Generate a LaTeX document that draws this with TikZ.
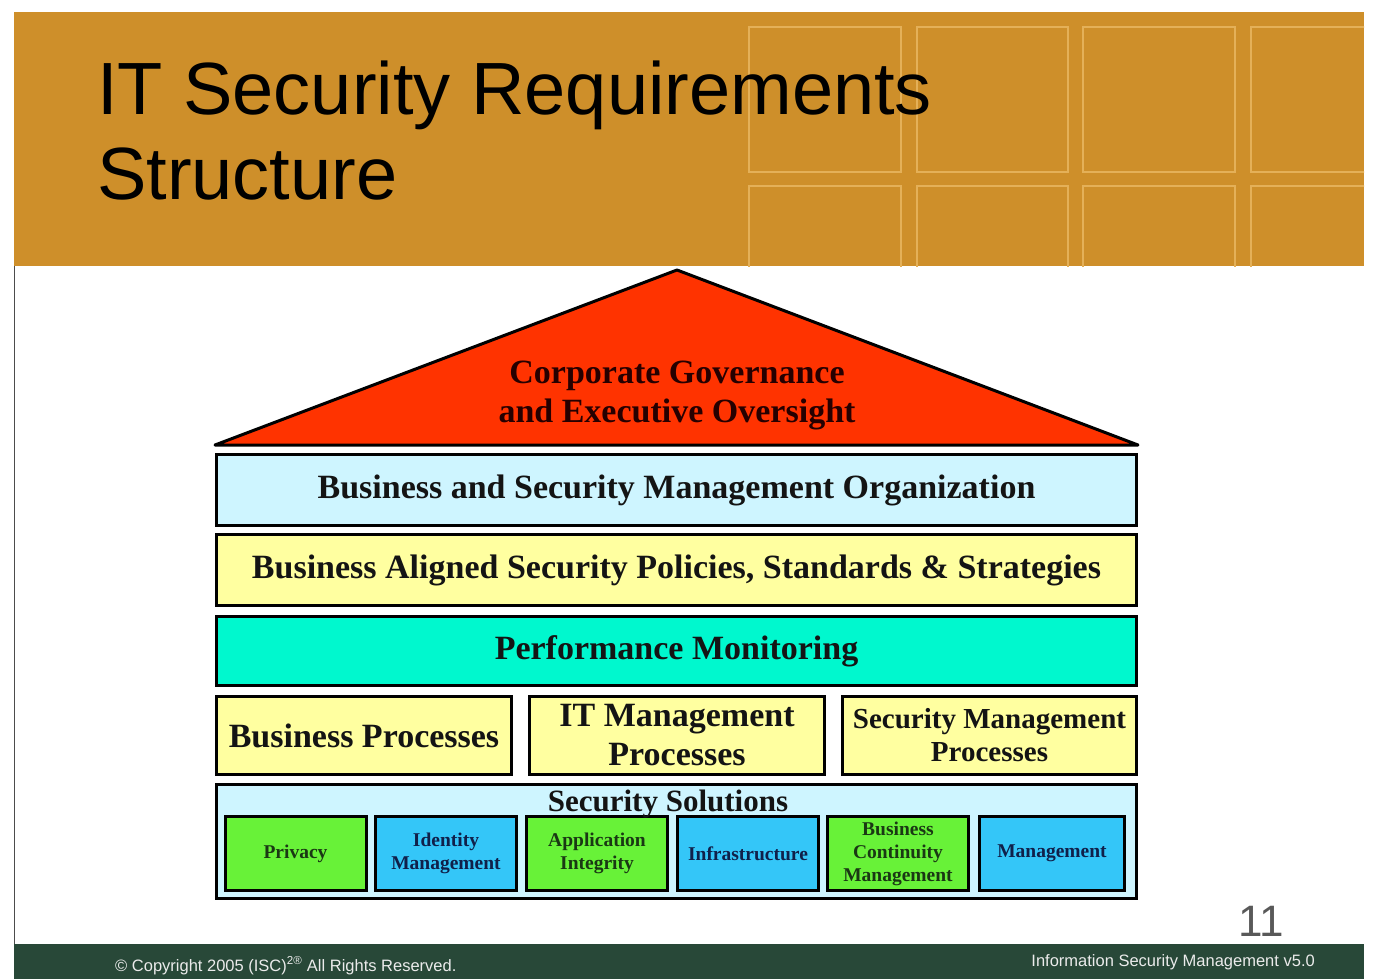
\documentclass[tikz,border=0pt]{standalone}
\usepackage{fontspec}
\setmainfont{Liberation Serif}
\newfontfamily\headfont{Liberation Sans}
\usetikzlibrary{positioning}
\definecolor{headorange}{RGB}{206,143,42}
\definecolor{gridorange}{RGB}{228,176,88}
\definecolor{footgreen}{RGB}{40,72,56}
\definecolor{roofred}{RGB}{255,51,0}
\definecolor{paleblue}{RGB}{206,245,255}
\definecolor{paleyellow}{RGB}{255,255,160}
\definecolor{mint}{RGB}{0,248,206}
\definecolor{solgreen}{RGB}{104,242,56}
\definecolor{solblue}{RGB}{52,198,248}
\definecolor{greentext}{RGB}{26,56,20}
\definecolor{bluetext}{RGB}{16,32,74}

\begin{document}
\begin{tikzpicture}[x=1pt, y=-1pt,
      layerbox/.style = {shape=rectangle, draw=black, line width=3pt,
        align=center, inner sep=0pt, text=black!92,
        font=\bfseries\fontsize{34}{39}\selectfont},
      smallbox/.style = {shape=rectangle, draw=black, line width=3pt,
        align=center, inner sep=0pt, minimum width=141pt, minimum height=74pt,
        font=\bfseries\fontsize{19.5}{23}\selectfont},
      greenbox/.style = {smallbox, fill=solgreen, text=greentext},
      bluebox/.style = {smallbox, fill=solblue, text=bluetext},
      foottext/.style = {inner sep=0pt, text=white!92!black,
        font=\headfont\fontsize{16.5}{19}\selectfont}]
      \useasboundingbox (0,0) rectangle (1379,979);
      % header band
      \fill[headorange] (14,12) rectangle (1364,266);
      \begin{scope}
        \clip (14,12) rectangle (1364,266);
        \draw[gridorange, line width=1.5pt]
          (749,27) rectangle (901,172) (917,27) rectangle (1068,172)
          (1083,27) rectangle (1235,172) (1251,27) rectangle (1403,172)
          (749,186) rectangle (901,300) (917,186) rectangle (1068,300)
          (1083,186) rectangle (1235,300) (1251,186) rectangle (1403,300);
      \end{scope}
      \node[anchor=base west, inner sep=0pt, font=\headfont\fontsize{74}{85}\selectfont] (title) at (97,115) {IT Security Requirements};
      \node[anchor=base west, inner sep=0pt, font=\headfont\fontsize{74}{85}\selectfont] (title2) at (97,200) {Structure};
      \draw[black!70, line width=1.5pt] (14.5,266) -- (14.5,944);
      % roof
      \draw[fill=roofred, line width=3pt, line join=round] (215,445) -- (677,270) -- (1138,445) -- cycle;
      \node[align=center, inner sep=0pt, text=black!85!red,
        font=\bfseries\fontsize{34}{39}\selectfont] (roof) at (677,395)
        {Corporate Governance\\and Executive Oversight};
      % layers
      \node[layerbox, fill=paleblue, minimum width=920pt, minimum height=71pt] (org) at (676.5,490) {Business and Security Management Organization};
      \node[layerbox, fill=paleyellow, minimum width=920pt, minimum height=71pt] (policy) at (676.5,570) {Business Aligned Security Policies, Standards \& Strategies};
      \node[layerbox, fill=mint, minimum width=920pt, minimum height=69pt] (perf) at (676.5,651) {Performance Monitoring};
      \node[layerbox, fill=paleyellow, minimum width=295pt, minimum height=78pt] (bizproc) at (364,735.5) {Business Processes};
      \node[layerbox, fill=paleyellow, minimum width=295pt, minimum height=78pt] (itproc) at (677,735.5) {IT Management\\Processes};
      \node[layerbox, fill=paleyellow, minimum width=294pt, minimum height=78pt,
        font=\bfseries\fontsize{29}{33}\selectfont] (secproc) at (989.5,735.5) {Security Management\\Processes};
      % security solutions
      \node[layerbox, fill=paleblue, minimum width=920pt, minimum height=114pt] (sol) at (676.5,841.5) {};
      \node[greenbox] (privacy) at (295.5,853.5) {Privacy};
      \node[bluebox] (identity) at (446,853.5) {Identity\\Management};
      \node[greenbox] (appint) at (597,853.5) {Application\\Integrity};
      \node[bluebox] (infra) at (748,853.5) {Infrastructure};
      \node[greenbox] (bcm) at (898,853.5) {Business\\Continuity\\Management};
      \node[bluebox, minimum width=145pt] (mgmt) at (1052,853.5) {Management};
      \node[anchor=base, inner sep=0pt, text=black!92,
        font=\bfseries\fontsize{31}{35}\selectfont] (soltitle) at (668,811) {Security Solutions};
      % footer
      \node[anchor=base west, inner sep=0pt, text=black!65,
        font=\headfont\fontsize{44}{50}\selectfont] (pageno) at (1238,936) {11};
      \fill[footgreen] (14,944) rectangle (1364,979);
      \node[foottext, anchor=base west] (copyright) at (115,971) {© Copyright 2005 (ISC)\textsuperscript{2®} All Rights Reserved.};
      \node[foottext, anchor=base east] (version) at (1315,966) {Information Security Management v5.0};
    \end{tikzpicture}
\end{document}
